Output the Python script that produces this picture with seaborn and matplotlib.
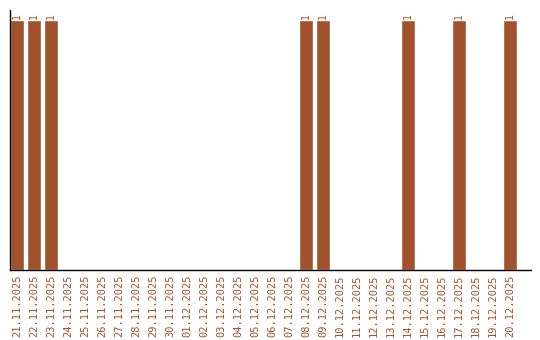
import matplotlib
matplotlib.use("Agg")
import matplotlib.pyplot as plt
import seaborn as sns
import pandas as pd

dates = ["21.11.2025", "22.11.2025", "23.11.2025", "24.11.2025", "25.11.2025",
         "26.11.2025", "27.11.2025", "28.11.2025", "29.11.2025", "30.11.2025",
         "01.12.2025", "02.12.2025", "03.12.2025", "04.12.2025", "05.12.2025",
         "06.12.2025", "07.12.2025", "08.12.2025", "09.12.2025", "10.12.2025",
         "11.12.2025", "12.12.2025", "13.12.2025", "14.12.2025", "15.12.2025",
         "16.12.2025", "17.12.2025", "18.12.2025", "19.12.2025", "20.12.2025"]
counts = [1, 1, 1, 0, 0, 0, 0, 0, 0, 0,
          0, 0, 0, 0, 0, 0, 0, 1, 1, 0,
          0, 0, 0, 1, 0, 0, 1, 0, 0, 1]

color = "#A0522D"
sns.set_theme(style="white")
plt.rcParams['font.family'] = ['DejaVu Sans Mono', 'DejaVu Sans']

df = pd.DataFrame({"date": dates, "count": counts})
fig = plt.figure(figsize=(5.4, 3.4), dpi=100)
ax = fig.add_axes([10/540, 70/340, 521/540, 260/340])
bar_w = 14 / 17
sns.barplot(data=df, x="date", y="count", color=color, saturation=1, width=bar_w, ax=ax)
ax.set_xlim(-bar_w / 2, (531 - 17) / 17)
ax.set_ylim(0, 1.04)
ax.set_xlabel("")
ax.set_ylabel("")
ax.set_yticks([])
for s in ["top", "right"]:
    ax.spines[s].set_visible(False)
for s in ["left", "bottom"]:
    ax.spines[s].set_color("black")
    ax.spines[s].set_linewidth(1)
ax.tick_params(axis="x", length=0, pad=3, labelsize=7.5, labelcolor=color, rotation=90)
for i, v in enumerate(counts):
    if v > 0:
        ax.text(i, v + 0.005, str(v), rotation=90, ha="center", va="bottom",
                fontsize=7, color=color)
fig.savefig("out.png", dpi=100)
